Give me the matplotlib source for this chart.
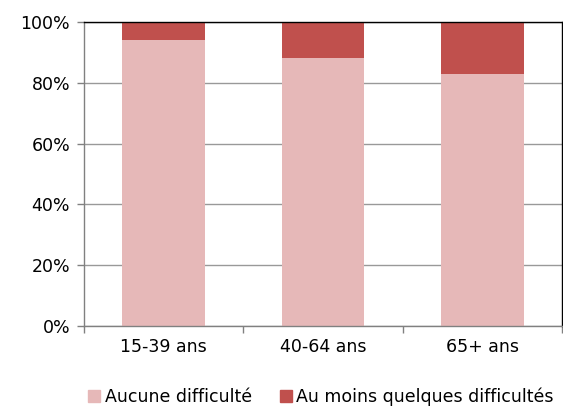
import numpy as np
import matplotlib.pyplot as plt
from matplotlib.patches import Patch

categories = ["15-39 ans", "40-64 ans", "65+ ans"]
aucune = [94, 88, 83]
quelques = [6, 12, 17]
labels = ["Aucune difficulté", "Au moins quelques difficultés"]
colors = ["#e6b8b8", "#c0504d"]

plt.rcParams['font.family'] = ['DejaVu Sans']
plt.rcParams['font.size'] = 12.5

fig = plt.figure(figsize=(5.63, 4.07), dpi=100)
ax = fig.add_axes([84/563, 1-326/407, 478/563, 304/407])

x = np.arange(len(categories))
ax.bar(x, aucune, width=0.52, color=colors[0], zorder=2)
ax.bar(x, quelques, width=0.52, bottom=aucune, color=colors[1], zorder=2)

ax.set_xlim(-0.5, 2.5)
ax.set_ylim(0, 100)
ax.set_yticks(np.arange(0, 101, 20))
ax.set_yticklabels([f"{v}%" for v in range(0, 101, 20)])
ax.yaxis.grid(True, color="#999999", linewidth=1, zorder=0)

ax.set_xticks([-0.5, 0.5, 1.5, 2.5])
ax.set_xticklabels([])
ax.set_xticks(x, minor=True)
ax.set_xticklabels(categories, minor=True)
ax.tick_params(axis='x', which='minor', length=0, pad=9)
ax.tick_params(axis='x', which='major', length=5, color="#808080", width=1)
ax.tick_params(axis='y', length=5, color="#808080", width=1, pad=5)

for s in ['left', 'bottom']:
    ax.spines[s].set_color("#808080")
for s in ['top', 'right']:
    ax.spines[s].set_color("black")
for s in ax.spines.values():
    s.set_linewidth(1)

handles = [Patch(color=c) for c in colors]
fig.legend(handles, labels, loc='center', bbox_to_anchor=(0.57, 1-397/407), ncol=2,
           frameon=False, handlelength=0.7, handleheight=0.7, handletextpad=0.25,
           columnspacing=1.6, fontsize=12.5)

plt.savefig("out.png", dpi=100)
